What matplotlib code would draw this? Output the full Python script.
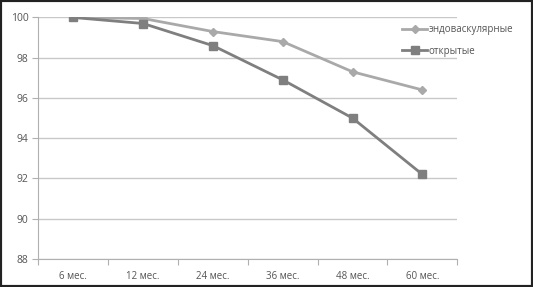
import matplotlib
matplotlib.use('Agg')
import matplotlib.pyplot as plt
from matplotlib.patches import Rectangle

categories = ['6 мес.', '12 мес.', '24 мес.', '36 мес.', '48 мес.', '60 мес.']
endo = [100, 99.95, 99.3, 98.8, 97.3, 96.4]
open_surg = [100, 99.7, 98.6, 96.9, 95.0, 92.2]
yticks = [88, 90, 92, 94, 96, 98, 100]

plt.rcParams['font.family'] = ['Open Sans', 'DejaVu Sans']

fig = plt.figure(figsize=(5.33, 2.87), dpi=100)
ax = fig.add_axes([0.072, 0.0976, 0.786, 0.8415])

x = list(range(len(categories)))
ax.plot(x, endo, color='#a9a9a9', linewidth=2, marker='D', markersize=4.5,
        label='эндоваскулярные', zorder=3)
ax.plot(x, open_surg, color='#7f7f7f', linewidth=2, marker='s', markersize=6,
        label='открытые', zorder=3)

ax.set_xlim(-0.5, len(categories) - 0.5)
ax.set_ylim(88, 100)
ax.set_yticks(yticks)
ax.set_yticklabels([str(v) for v in yticks])
ax.yaxis.grid(True, color='#c8c8c8', linewidth=1)
ax.set_axisbelow(True)

ax.set_xticks([i - 0.5 for i in range(len(categories) + 1)])
ax.set_xticklabels([])
ax.set_xticks(x, minor=True)
ax.set_xticklabels(categories, minor=True)
ax.tick_params(axis='x', which='major', length=4, color='#b0b0b0', direction='out')
ax.tick_params(axis='x', which='minor', length=0, pad=9, labelsize=7, labelcolor='#555555')
ax.tick_params(axis='y', length=4, color='#b0b0b0', labelsize=7.5, labelcolor='#555555', pad=3)

for s in ['top', 'right']:
    ax.spines[s].set_visible(False)
ax.spines['left'].set_color('#b0b0b0')
ax.spines['bottom'].set_color('#b0b0b0')

ax.legend(loc='upper left', bbox_to_anchor=(402 / 533, 1 - 24 / 287),
          bbox_transform=fig.transFigure, frameon=False, borderpad=0,
          borderaxespad=0, fontsize=7, labelcolor='#555555', handlelength=2.6,
          handletextpad=0.1, labelspacing=1.1)

fig.patches.append(Rectangle((0, 0), 1, 1, transform=fig.transFigure,
                             fill=False, edgecolor='#222222', linewidth=3))

fig.savefig('out.png', dpi=100)
